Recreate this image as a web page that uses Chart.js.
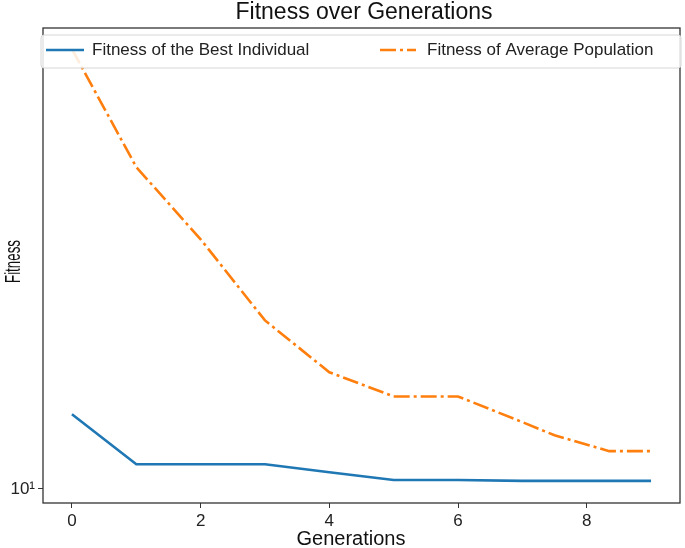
<!DOCTYPE html>
<html>
<head>
<meta charset="utf-8">
<script src="https://cdn.jsdelivr.net/npm/chart.js@4.4.1/dist/chart.umd.min.js"></script>
<style>
  html, body { margin: 0; padding: 0; background: #fff; }
  #wrap { width: 685px; height: 548px; }
</style>
</head>
<body>
<div id="wrap"><canvas id="chart" width="685" height="548"></canvas></div>
<script>
// values (log y axis)
const bestGen = [0, 1, 2, 3, 4, 5, 6, 7, 8, 9];
const bestFitness = [14.1, 11.2, 11.2, 11.2, 10.8, 10.42, 10.42, 10.38, 10.38, 10.38];
const avgGen = [0, 1, 2, 3, 4, 5, 6, 7, 7.5, 8.35, 9];
const avgFitness = [75.5, 43.9, 31.5, 21.7, 17.1, 15.3, 15.3, 13.6, 12.8, 11.9, 11.9];
const xTicks = [0, 2, 4, 6, 8];
const yTicks = [10];
const chartTitle = 'Fitness over Generations';
const xTitle = 'Generations';
const yTitle = 'Fitness';

const BLUE = '#1f77b4', ORANGE = '#ff7f0e';
const FONT = '"Liberation Sans", Arial, sans-serif';
const DASHDOT = [16, 4, 3, 4];

const toPoints = (xs, ys) => xs.map((x, i) => ({ x, y: ys[i] }));

// axes box (matplotlib style frame)
const framePlugin = {
  id: 'frame',
  afterDatasetsDraw(chart) {
    const { ctx, chartArea: a } = chart;
    ctx.save();
    ctx.strokeStyle = '#333';
    ctx.lineWidth = 1.3;
    ctx.strokeRect(a.left, a.top, a.right - a.left, a.bottom - a.top);
    ctx.restore();
  }
};

// titles; the source image is squeezed, so the vertical label is shorter
const titles = {
  id: 'titles',
  afterDraw(chart) {
    const { ctx } = chart;
    ctx.save();
    ctx.fillStyle = '#111';
    ctx.textAlign = 'center';
    ctx.textBaseline = 'middle';
    ctx.font = '23px ' + FONT;
    ctx.fillText(chartTitle, 364, 13);

    ctx.font = '20px ' + FONT;
    ctx.fillText(xTitle, 351, 539);

    ctx.font = '22px ' + FONT;
    const w = ctx.measureText(yTitle).width;
    ctx.translate(14, 261.5);
    ctx.rotate(-Math.PI / 2);
    ctx.scale(43 / w, 1);
    ctx.fillText(yTitle, 0, 0);
    ctx.restore();
  }
};

// legend box sitting inside the plot, across the top
const legendBox = {
  id: 'legendBox',
  afterDatasetsDraw(chart) {
    const { ctx } = chart;
    const ds = chart.data.datasets;
    const top = 35, bottom = 68, left = 41, right = 681, cy = 50;
    ctx.save();
    ctx.fillStyle = 'rgba(255,255,255,0.85)';
    ctx.strokeStyle = '#d6d6d6';
    ctx.lineWidth = 1;
    ctx.beginPath();
    ctx.roundRect(left, top, right - left, bottom - top, 3);
    ctx.fill();
    ctx.stroke();

    const items = [
      { x0: 46, x1: 84, tx: 92 },
      { x0: 380, x1: 416, tx: 427 }
    ];
    ctx.font = '17px ' + FONT;
    ctx.textBaseline = 'middle';
    items.forEach((it, i) => {
      const d = ds[i];
      ctx.strokeStyle = d.borderColor;
      ctx.lineWidth = d.borderWidth;
      ctx.setLineDash(d.borderDash || []);
      ctx.beginPath();
      ctx.moveTo(it.x0, cy);
      ctx.lineTo(it.x1, cy);
      ctx.stroke();
      ctx.setLineDash([]);
      ctx.fillStyle = '#222';
      ctx.fillText(d.label, it.tx, cy);
    });
    ctx.restore();
  }
};

new Chart(document.getElementById('chart'), {
  type: 'line',
  data: {
    datasets: [
      { label: 'Fitness of the Best Individual', data: toPoints(bestGen, bestFitness),
        borderColor: BLUE, borderWidth: 2.6, pointRadius: 0, tension: 0, fill: false },
      { label: 'Fitness of Average Population', data: toPoints(avgGen, avgFitness),
        borderColor: ORANGE, borderWidth: 2.6, borderDash: DASHDOT, pointRadius: 0, tension: 0, fill: false }
    ]
  },
  options: {
    responsive: false,
    animation: false,
    layout: { padding: { left: 0, right: 5, top: 28, bottom: 0 } },
    plugins: {
      legend: { display: false },
      tooltip: { enabled: false },
      title: { display: false }
    },
    scales: {
      x: {
        type: 'linear', min: -0.45, max: 9.45,
        afterBuildTicks: s => { s.ticks = xTicks.map(v => ({ value: v })); },
        afterFit: s => { s.height = 45; },
        grid: { drawOnChartArea: false, drawTicks: true, tickLength: 5, color: '#333' },
        border: { display: false },
        ticks: { color: '#222', padding: 3, font: { family: FONT, size: 17 } }
      },
      y: {
        type: 'logarithmic', min: 9.376, max: 83.2,
        afterBuildTicks: s => { s.ticks = yTicks.map(v => ({ value: v })); },
        afterFit: s => { s.width = 43; },
        grid: { drawOnChartArea: false, drawTicks: true, tickLength: 5, color: '#333' },
        border: { display: false },
        ticks: { color: '#222', padding: 3, font: { family: FONT, size: 17 },
          callback: v => v === 10 ? '10\u00B9' : '' }
      }
    }
  },
  plugins: [framePlugin, legendBox, titles]
});
</script>
</body>
</html>
